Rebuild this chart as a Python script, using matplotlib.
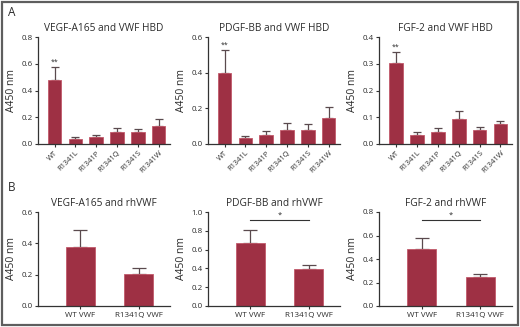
import matplotlib
matplotlib.use("Agg")
import matplotlib.pyplot as plt
from matplotlib.patches import Rectangle

# ---- data ----
mutants = ["WT", "R1341L", "R1341P", "R1341Q", "R1341S", "R1341W"]
vegf_hbd = [0.478, 0.035, 0.052, 0.092, 0.089, 0.137]
vegf_hbd_err = [0.098, 0.020, 0.015, 0.025, 0.025, 0.052]
pdgf_hbd = [0.398, 0.031, 0.050, 0.080, 0.080, 0.144]
pdgf_hbd_err = [0.128, 0.013, 0.024, 0.035, 0.031, 0.063]
fgf_hbd = [0.303, 0.032, 0.045, 0.092, 0.052, 0.073]
fgf_hbd_err = [0.042, 0.013, 0.013, 0.030, 0.013, 0.014]

vwf_groups = ["WT VWF", "R1341Q VWF"]
vegf_rh = [0.376, 0.207]
vegf_rh_err = [0.111, 0.037]
pdgf_rh = [0.673, 0.391]
pdgf_rh_err = [0.138, 0.040]
fgf_rh = [0.484, 0.248]
fgf_rh_err = [0.097, 0.023]

titles_a = ["VEGF-A165 and VWF HBD", "PDGF-BB and VWF HBD", "FGF-2 and VWF HBD"]
titles_b = ["VEGF-A165 and rhVWF", "PDGF-BB and rhVWF", "FGF-2 and rhVWF"]
yticks_a = [[0.0, 0.2, 0.4, 0.6, 0.8], [0.0, 0.2, 0.4, 0.6], [0.0, 0.1, 0.2, 0.3, 0.4]]
yticks_b = [[0.0, 0.2, 0.4, 0.6], [0.0, 0.2, 0.4, 0.6, 0.8, 1.0], [0.0, 0.2, 0.4, 0.6, 0.8]]
sig_b = [None, "*", "*"]

BAR = "#9e3044"
EDGE = "#c25a6b"
ERR = "#5a4a4e"
TXT = "#2b2b2b"

plt.rcParams['font.family'] = ['Open Sans', 'DejaVu Sans']

fig = plt.figure(figsize=(5.2, 3.27), dpi=100)
fig.patches.append(Rectangle((1.5 / 520, 2 / 327), 516 / 520, 323 / 327,
                             transform=fig.transFigure, fill=False,
                             edgecolor="#5e5e5e", linewidth=1.6))

lefts = [38 / 520, 208 / 520, 379 / 520]
widths = [132 / 520, 132 / 520, 133 / 520]


def style(ax, yt):
    for s in ["top", "right"]:
        ax.spines[s].set_visible(False)
    for s in ["left", "bottom"]:
        ax.spines[s].set_color("#333333")
        ax.spines[s].set_linewidth(0.9)
    ax.set_ylim(yt[0], yt[-1])
    ax.set_yticks(yt)
    ax.set_yticklabels([f"{v:.1f}" for v in yt])
    ax.tick_params(axis="both", colors="#333333", labelcolor=TXT, labelsize=5.8,
                   length=2.5, width=0.8, pad=1.5)
    ax.set_ylabel("A450 nm", fontsize=7.5, color=TXT, labelpad=3)


a_vals = [(vegf_hbd, vegf_hbd_err), (pdgf_hbd, pdgf_hbd_err), (fgf_hbd, fgf_hbd_err)]
for i in range(3):
    ax = fig.add_axes([lefts[i], 1 - 144 / 327, widths[i], 107 / 327])
    vals, errs = a_vals[i]
    x = list(range(len(mutants)))
    ax.bar(x, vals, width=0.66, color=BAR, edgecolor=EDGE, linewidth=0.6, zorder=2)
    ax.errorbar(x, vals, yerr=[[0] * len(errs), errs], fmt="none", ecolor=ERR,
                elinewidth=0.9, capsize=2.6, capthick=0.9, zorder=1)
    ax.set_xlim(-0.8, 5.55)
    ax.set_xticks(x)
    ax.set_xticklabels(mutants, rotation=45, ha="right", rotation_mode="anchor")
    style(ax, yticks_a[i])
    ax.tick_params(axis="x", labelsize=5.4)
    ax.text(0, vals[0] + errs[0] + 0.01 * yticks_a[i][-1], "**",
            ha="center", va="bottom", fontsize=5, color=TXT)
    ax.set_title(titles_a[i], fontsize=7.3, color=TXT, pad=4.5)

b_vals = [(vegf_rh, vegf_rh_err), (pdgf_rh, pdgf_rh_err), (fgf_rh, fgf_rh_err)]
for i in range(3):
    ax = fig.add_axes([lefts[i], 1 - 306 / 327, widths[i], 94 / 327])
    vals, errs = b_vals[i]
    x = list(range(len(vwf_groups)))
    ax.bar(x, vals, width=0.5, color=BAR, edgecolor=EDGE, linewidth=0.6, zorder=2)
    ax.errorbar(x, vals, yerr=[[0] * len(errs), errs], fmt="none", ecolor=ERR,
                elinewidth=0.9, capsize=5, capthick=0.9, zorder=1)
    ax.set_xlim(-0.73, 1.54)
    ax.set_xticks(x)
    ax.set_xticklabels(vwf_groups)
    style(ax, yticks_b[i])
    if sig_b[i]:
        top = yticks_b[i][-1]
        yl = top * 0.918
        ax.plot([0, 1], [yl, yl], color="#333333", linewidth=0.8)
        ax.text(0.5, yl + top * 0.01, sig_b[i], ha="center", va="bottom",
                fontsize=5.5, color=TXT)
    ax.set_title(titles_b[i], fontsize=7.3, color=TXT, pad=4.5)

fig.text(8 / 520, 1 - 12 / 327, "A", fontsize=8.5, color=TXT, ha="left", va="center")
fig.text(8 / 520, 1 - 187 / 327, "B", fontsize=8.5, color=TXT, ha="left", va="center")

fig.savefig("out.png", dpi=100)
